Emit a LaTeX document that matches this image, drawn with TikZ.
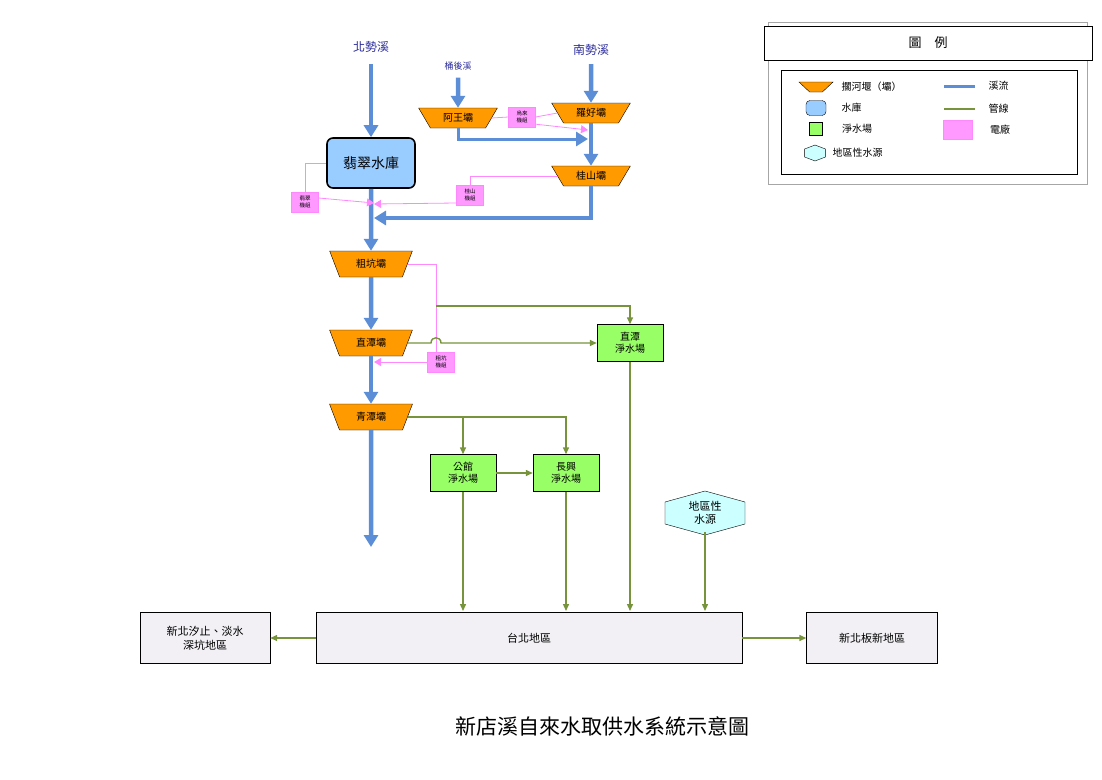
\documentclass[tikz,border=0pt]{standalone}
\usepackage{fontspec}
\setmainfont{Noto Sans CJK TC}
\usepackage{xcolor}
\definecolor{riverBlue}{HTML}{5B8ED6}
\definecolor{damOrange}{HTML}{FF9A00}
\definecolor{resBlue}{HTML}{99CCFF}
\definecolor{plantGreen}{HTML}{99FF66}
\definecolor{pipeGreen}{HTML}{77933C}
\definecolor{powerPink}{HTML}{FF88FF}
\definecolor{powerFill}{HTML}{FF99FF}
\definecolor{srcCyan}{HTML}{CCFFFF}
\definecolor{areaBg}{HTML}{F2F0F5}
\definecolor{textBlue}{HTML}{2B2B9A}
\usetikzlibrary{positioning,calc,arrows.meta,shapes.geometric}
\tikzset{%
  damShape/.style={%
    trapezium,
    shape border rotate=180,
    trapezium stretches=true,
    trapezium left angle=63,
    trapezium right angle=63,
    draw=black,
    fill=damOrange,
    minimum width=83pt,
    minimum height=26pt,
    inner sep=0pt,
    font=\fontsize{10}{12}\selectfont
  },
  smallDam/.style={%
    damShape,
    trapezium left angle=55,
    trapezium right angle=55,
    minimum width=79pt,
    minimum height=20pt
  },
  reservoir/.style={%
    rectangle,
    rounded corners=6pt,
    draw=black,
    line width=1.6pt,
    fill=resBlue,
    minimum width=88pt,
    minimum height=50pt,
    font=\fontsize{14}{16}\selectfont
  },
  plantBox/.style={%
    rectangle,
    draw=black,
    fill=plantGreen,
    minimum width=66pt,
    minimum height=37pt,
    align=center,
    inner sep=1pt,
    font=\fontsize{10}{12}\selectfont
  },
  powerBox/.style={%
    rectangle,
    draw=powerPink,
    fill=powerFill,
    minimum width=27pt,
    minimum height=20pt,
    align=center,
    inner sep=0pt,
    font=\fontsize{5.5}{7}\selectfont
  },
  areaBox/.style={%
    rectangle,
    draw=black,
    fill=areaBg,
    minimum height=51pt,
    align=center,
    font=\fontsize{11}{14}\selectfont
  },
  riverLabel/.style={%
    text=textBlue,
    font=\fontsize{12}{14}\selectfont
  },
  legendText/.style={%
    font=\fontsize{10}{12}\selectfont
  },
  riverArrow/.style={%
    -{Triangle[length=12pt,width=14pt]},
    line width=4.5pt,
    draw=riverBlue
  },
  pipeArrow/.style={%
    -{Triangle[length=7pt,width=6pt]},
    line width=1.4pt,
    draw=pipeGreen
  },
  powerArrow/.style={%
    -{Triangle[length=7pt,width=8pt]},
    thick,
    draw=powerPink
  }
}

\begin{document}
\begin{tikzpicture}[x=1pt,y=-1pt]
  \useasboundingbox (0,0) rectangle (1102,779);

  % streams and dams
  \node[riverLabel] (beishi) at (371,47) {北勢溪};
  \node[riverLabel, font=\fontsize{9}{11}\selectfont] (tonghou) at (458,66) {桶後溪};
  \node[riverLabel] (nanshi) at (591,50) {南勢溪};
  \node[reservoir] (feicui) at (371,163) {翡翠水庫};
  \node[smallDam] (awang) at (458,118) {阿王壩};
  \node[smallDam] (luohao) at (591,113) {羅好壩};
  \node[smallDam] (guishan) at (591,176) {桂山壩};
  \node[damShape] (cukeng) at (371,264) {粗坑壩};
  \node[damShape] (zhitan) at (371,343) {直潭壩};
  \node[damShape] (qingtan) at (371,417) {青潭壩};
  \coordinate (riverEnd) at (371,547);

  % power stations
  \node[powerBox] (wulaiPow) at (522,117) {烏來\\機組};
  \node[powerBox] (guishanPow) at (470,195) {桂山\\機組};
  \node[powerBox] (feicuiPow) at (305,202) {翡翠\\機組};
  \node[powerBox] (cukengPow) at (441,362) {粗坑\\機組};

  % plants and areas
  \node[plantBox] (zhitanPlant) at (630,343) {直潭\\淨水場};
  \node[plantBox] (gongguan) at (463,473) {公館\\淨水場};
  \node[plantBox] (changxing) at (566,473) {長興\\淨水場};
  \node[regular polygon, regular polygon sides=6, shape border rotate=90, draw=black,
        fill=srcCyan, minimum size=44pt, xscale=2.1, inner sep=0pt] (localSrc) at (705,513) {};
  \node[align=center, font=\fontsize{11}{13}\selectfont] at (localSrc) {地區性\\水源};
  \node[areaBox, minimum width=426pt] (taipei) at (529,638) {台北地區};
  \node[areaBox, minimum width=130pt] (xizhi) at (205,638) {新北汐止、淡水\\深坑地區};
  \node[areaBox, minimum width=131pt] (banxin) at (872,638) {新北板新地區};

  % river flow
  \draw[riverArrow] (beishi.south) ++(0,8) -- (feicui.north);
  \draw[riverArrow] (tonghou.south) ++(0,4) -- (awang.north);
  \draw[riverArrow] (nanshi.south) ++(0,5) -- (luohao.north);
  \draw[riverArrow, line width=3pt] (awang.south) |- (588,139);
  \draw[riverArrow] (luohao.south) -- (guishan.north);
  \draw[riverArrow] (guishan.south) |- (374,218);
  \draw[riverArrow] (feicui.south) -- (cukeng.north);
  \draw[riverArrow] (cukeng.south) -- (zhitan.north);
  \draw[riverArrow] (zhitan.south) -- (qingtan.north);
  \draw[riverArrow] (qingtan.south) -- (riverEnd);

  % power lines
  \draw[powerPink, thick] (awang.east) -- (wulaiPow.west);
  \draw[powerPink, thick] (wulaiPow.east) -- (luohao.west);
  \draw[powerArrow] (wulaiPow.south east) ++(0,-3) -- (588,130);
  \draw[powerPink, thick] (guishan.west) -| (guishanPow.north);
  \draw[powerArrow] (guishanPow.west) ++(0,8) -- (374,204);
  \draw[powerPink, thick] (feicui.west) -| (feicuiPow.north);
  \draw[powerArrow] (feicuiPow.east) ++(0,-4) -- (374,203);
  \draw[powerPink, thick] (cukeng.east) -| (436,352);
  \draw[powerArrow] (cukengPow.west) -- (374,362);

  % pipes
  \draw[pipeArrow] (436,306) -| (zhitanPlant.north);
  \draw[pipeArrow] (zhitan.east) -- (431,343) .. controls (431,336) and (441,336) .. (441,343)
    -- (zhitanPlant.west);
  \draw[pipeArrow] (qingtan.east) -| (changxing.north);
  \draw[pipeArrow] (463,417) -- (gongguan.north);
  \draw[pipeArrow] (gongguan.east) -- (changxing.west);
  \draw[pipeArrow] (gongguan.south) -- (463,611);
  \draw[pipeArrow] (changxing.south) -- (566,611);
  \draw[pipeArrow] (zhitanPlant.south) -- (630,611);
  \draw[pipeArrow] (705,532) -- (705,611);
  \draw[pipeArrow] (taipei.west) -- (xizhi.east);
  \draw[pipeArrow] (taipei.east) -- (banxin.west);

  % title
  \node[font=\fontsize{21}{24}\selectfont] (title) at (602,726) {新店溪自來水取供水系統示意圖};

  % legend
  \draw[gray!70] (768,22) rectangle (1087,184);
  \node[draw=black, thick, fill=white, minimum width=328pt, minimum height=34pt,
        font=\fontsize{13}{15}\selectfont] (legHead) at (928,43) {圖\quad 例};
  \node[draw=black, thick, minimum width=296pt, minimum height=104pt] (legBox) at (929,122) {};
  \node[damShape, minimum width=34pt, minimum height=10pt, trapezium left angle=50,
        trapezium right angle=50, inner sep=1pt] (legDam) at (816,87) {};
  \node[legendText, right=10pt of legDam] {擱河堰（壩）};
  \node[draw=black, fill=resBlue, rounded corners=4pt, minimum width=20pt,
        minimum height=15pt] (legRes) at (816,108) {};
  \node[legendText, right=12pt of legRes] {水庫};
  \node[draw=black, fill=plantGreen, minimum width=13pt, minimum height=13pt] (legPlant) at (816,129) {};
  \node[legendText, right=16pt of legPlant] {淨水場};
  \node[regular polygon, regular polygon sides=6, shape border rotate=90, draw=black,
        fill=srcCyan, minimum size=16pt, xscale=1.5, inner sep=0pt] (legSrc) at (815,153) {};
  \node[legendText, right=14pt of legSrc.center] {地區性水源};
  \coordinate (legRiverA) at (944,86);
  \coordinate (legRiverB) at (975,86);
  \draw[riverBlue, line width=3pt] (legRiverA) -- (legRiverB);
  \node[legendText, right=10pt of legRiverB] {溪流};
  \coordinate (legPipeA) at (944,109);
  \coordinate (legPipeB) at (975,109);
  \draw[pipeGreen, line width=2pt] (legPipeA) -- (legPipeB);
  \node[legendText, right=10pt of legPipeB] {管線};
  \node[draw=powerPink, fill=powerFill, minimum width=29pt, minimum height=19pt] (legPow) at (958,130) {};
  \node[legendText, right=14pt of legPow] {電廠};
\end{tikzpicture}
\end{document}
